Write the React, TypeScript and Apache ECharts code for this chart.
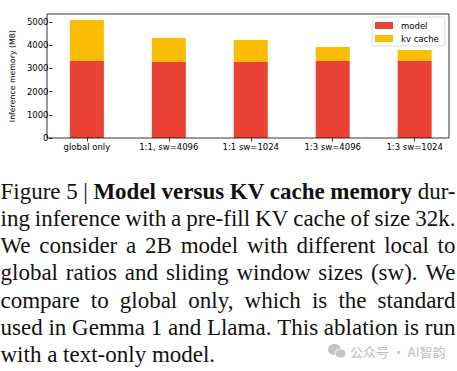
import React, { useEffect, useRef } from "react";
import * as echarts from "echarts";

const categories = ["global only", "1:1, sw=4096", "1:1 sw=1024", "1:3 sw=4096", "1:3 sw=1024"];
const modelMB = [3312, 3270, 3270, 3312, 3312];
const kvCacheMB = [1763, 1031, 945, 602, 473];
const yTicks = [0, 1000, 2000, 3000, 4000, 5000];

type Seg = { t: string; b?: boolean };
const captionLines: Seg[][] = [
  [{ t: "Figure 5 | " }, { t: "Model versus KV cache memory", b: true }, { t: " dur-" }],
  [{ t: "ing inference with a pre-fill KV cache of size 32k." }],
  [{ t: "We consider a 2B model with different local to" }],
  [{ t: "global ratios and sliding window sizes (sw). We" }],
  [{ t: "compare to global only, which is the standard" }],
  [{ t: "used in Gemma 1 and Llama. This ablation is run" }],
  [{ t: "with a text-only model." }],
];
const watermark = "公众号 · AI智韵";

const RED = "#EA4335";
const YELLOW = "#FBBC04";
const SERIF = '"Liberation Serif"';
const CAP_FS = 23;

// plot frame (matplotlib axes box)
const PX0 = 47, PY0 = 14, PW = 402, PH = 124;
// bar band layout: category centers at 81.9 .. 414.1
const BAND = 83.05;
const GRID_LEFT = 81.9 - BAND / 2;

export default function App() {
  const ref = useRef<HTMLDivElement>(null);
  useEffect(() => {
    const chart = echarts.init(ref.current!, null, { renderer: "svg" });
    const ctx = document.createElement("canvas").getContext("2d")!;
    const measure = (s: string, bold: boolean) => {
      ctx.font = `${bold ? "bold " : ""}${CAP_FS}px ${SERIF}`;
      return ctx.measureText(s).width;
    };
    const lineWidth = 455;
    const baseY = 199;
    const pitch = 27.25;
    const captionEls: any[] = captionLines.map((segs, li) => {
      const words: { t: string; b: boolean }[] = [];
      segs.forEach((sg) => {
        sg.t.split(" ").forEach((w) => {
          if (w.length) words.push({ t: w, b: !!sg.b });
        });
      });
      const sum = words.reduce((a, w) => a + measure(w.t, w.b), 0);
      const last = li === captionLines.length - 1;
      const gap = last ? measure(" ", false) : (lineWidth - sum) / (words.length - 1);
      const text = words.map((w) => `{${w.b ? "b" : "r"}|${w.t}}`).join("{s| }");
      return {
        type: "text",
        x: 0.5,
        y: baseY + li * pitch - 0.3375 * CAP_FS,
        style: {
          text,
          verticalAlign: "middle",
          align: "left",
          fontSize: CAP_FS,
          fontFamily: SERIF,
          fill: "#111",
          rich: {
            r: { fontSize: CAP_FS, fontFamily: SERIF, fontWeight: "normal", fill: "#111" },
            b: { fontSize: CAP_FS, fontFamily: SERIF, fontWeight: "bold", fill: "#111" },
            s: { fontSize: CAP_FS, fontFamily: SERIF, width: gap, fill: "#111" },
          },
        },
      };
    });

    const axisFont = { fontSize: 8.5, fontFamily: "DejaVu Sans", color: "#000" };
    const thin = { color: "#000", width: 0.8 };

    chart.setOption({
      animation: false,
      backgroundColor: "#fff",
      grid: {
        left: GRID_LEFT,
        top: PY0,
        width: BAND * categories.length,
        height: PH,
      },
      legend: {
        data: ["model", "kv cache"],
        orient: "vertical",
        left: 372,
        top: 17,
        icon: "rect",
        itemWidth: 18,
        itemHeight: 7,
        itemGap: 4,
        padding: [4, 6, 3, 3],
        backgroundColor: "rgba(255,255,255,0.8)",
        borderColor: "#d6d6d6",
        borderWidth: 0.8,
        borderRadius: 2,
        z: 10,
        textStyle: { fontSize: 8.5, fontFamily: "DejaVu Sans", color: "#000", padding: [0, 0, 0, 3] },
      },
      xAxis: {
        type: "category",
        data: categories,
        boundaryGap: true,
        axisLine: { show: false },
        axisTick: { show: true, alignWithLabel: true, length: 3.5, lineStyle: thin },
        axisLabel: { interval: 0, margin: 4, ...axisFont },
        splitLine: { show: false },
      },
      yAxis: {
        type: "value",
        min: 0,
        max: 5335,
        offset: GRID_LEFT - PX0,
        name: "Inference memory (MB)",
        nameLocation: "middle",
        nameGap: 34,
        nameTextStyle: { fontSize: 7.8, fontFamily: "DejaVu Sans", color: "#000" },
        axisLine: { show: false },
        axisTick: { show: true, length: 3.5, customValues: yTicks, lineStyle: thin },
        axisLabel: { customValues: yTicks, margin: 4, formatter: (v: number) => String(v), ...axisFont },
        splitLine: { show: false },
      },
      series: [
        {
          name: "model",
          type: "bar",
          stack: "mem",
          barWidth: 34,
          data: modelMB,
          itemStyle: { color: RED },
        },
        {
          name: "kv cache",
          type: "bar",
          stack: "mem",
          barWidth: 34,
          data: kvCacheMB,
          itemStyle: { color: YELLOW },
        },
      ],
      graphic: [
        {
          type: "rect",
          shape: { x: PX0, y: PY0, width: PW, height: PH },
          style: { fill: "none", stroke: "#000", lineWidth: 0.8 },
          z: 5,
          silent: true,
        },
        ...captionEls,
        {
          type: "group",
          left: 328,
          top: 344,
          children: [
            { type: "ellipse", shape: { cx: 7, cy: 6, rx: 6.5, ry: 5.5 }, style: { fill: "#c4c4c4" } },
            { type: "ellipse", shape: { cx: 13, cy: 10, rx: 5.5, ry: 4.6 }, style: { fill: "#c4c4c4", stroke: "#fff", lineWidth: 1 } },
          ],
        },
        {
          type: "text",
          x: 350,
          y: 351,
          style: {
            text: watermark,
            fontSize: 13,
            fontFamily: '"Noto Sans CJK SC"',
            fill: "#bdbdbd",
            verticalAlign: "middle",
          },
        },
      ],
    });
    return () => chart.dispose();
  }, []);
  return (
    <div
      ref={ref}
      style={{ position: "absolute", left: 0, top: 0, width: 457, height: 371, background: "#fff" }}
    />
  );
}
